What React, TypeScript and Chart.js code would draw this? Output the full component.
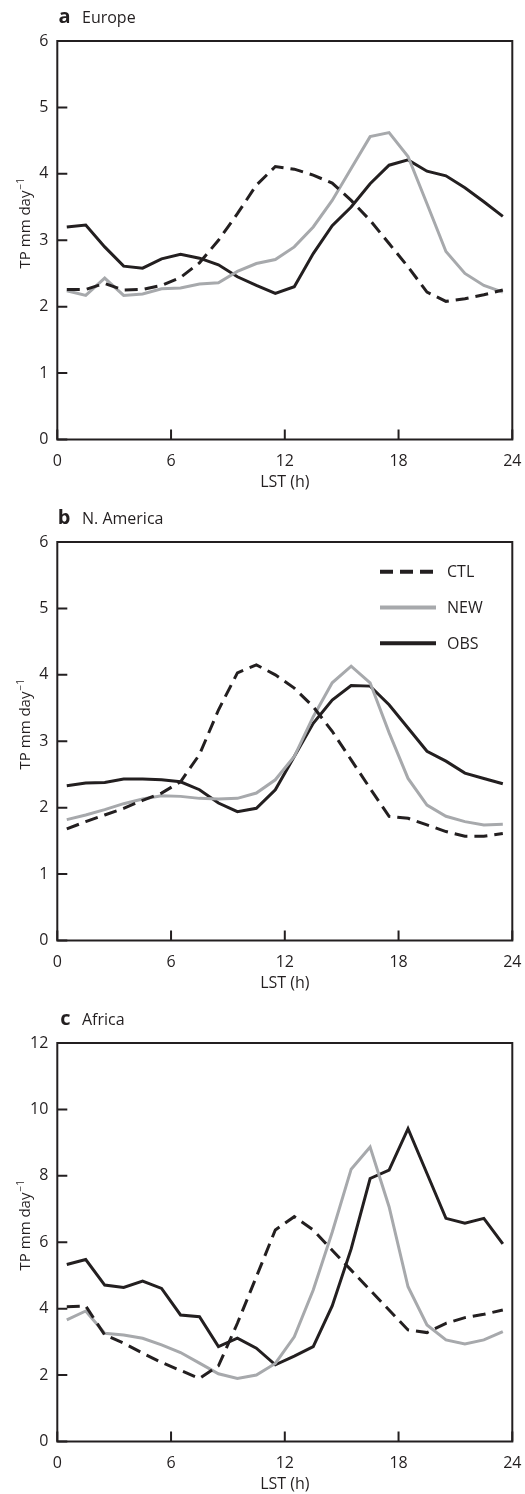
import React, { useEffect, useRef } from 'react';
import { Chart, registerables } from 'chart.js';

Chart.register(...registerables);

// ---- data ----
const HOURS = [0.5, 1.5, 2.5, 3.5, 4.5, 5.5, 6.5, 7.5, 8.5, 9.5, 10.5, 11.5, 12.5, 13.5, 14.5, 15.5, 16.5, 17.5, 18.5, 19.5, 20.5, 21.5, 22.5, 23.5];
const SERIES_NAMES = ['CTL', 'NEW', 'OBS'];

const EUROPE_CTL = [2.26, 2.26, 2.35, 2.25, 2.26, 2.32, 2.44, 2.66, 3.0, 3.4, 3.83, 4.11, 4.07, 3.98, 3.86, 3.6, 3.3, 2.95, 2.6, 2.22, 2.08, 2.12, 2.18, 2.25];
const EUROPE_NEW = [2.24, 2.17, 2.43, 2.17, 2.19, 2.27, 2.28, 2.34, 2.36, 2.53, 2.65, 2.71, 2.9, 3.2, 3.6, 4.08, 4.56, 4.62, 4.26, 3.55, 2.83, 2.5, 2.32, 2.22];
const EUROPE_OBS = [3.2, 3.23, 2.9, 2.61, 2.58, 2.72, 2.79, 2.73, 2.63, 2.45, 2.32, 2.2, 2.3, 2.8, 3.22, 3.5, 3.85, 4.13, 4.21, 4.04, 3.97, 3.79, 3.58, 3.36];

const NAMERICA_CTL = [1.68, 1.79, 1.89, 1.99, 2.11, 2.22, 2.39, 2.8, 3.47, 4.03, 4.15, 4.0, 3.8, 3.52, 3.15, 2.72, 2.29, 1.87, 1.84, 1.74, 1.64, 1.57, 1.57, 1.61];
const NAMERICA_NEW = [1.82, 1.89, 1.97, 2.06, 2.13, 2.18, 2.17, 2.14, 2.13, 2.14, 2.22, 2.42, 2.77, 3.37, 3.88, 4.13, 3.88, 3.13, 2.44, 2.04, 1.87, 1.79, 1.74, 1.75];
const NAMERICA_OBS = [2.33, 2.37, 2.38, 2.43, 2.43, 2.42, 2.39, 2.27, 2.07, 1.94, 1.99, 2.27, 2.77, 3.27, 3.62, 3.84, 3.83, 3.55, 3.2, 2.85, 2.7, 2.52, 2.44, 2.36];

const AFRICA_CTL = [4.06, 4.08, 3.21, 2.96, 2.66, 2.38, 2.14, 1.9, 2.28, 3.56, 4.96, 6.37, 6.77, 6.37, 5.76, 5.16, 4.56, 3.96, 3.36, 3.28, 3.56, 3.73, 3.83, 3.96];
const AFRICA_NEW = [3.66, 3.93, 3.26, 3.21, 3.11, 2.91, 2.68, 2.36, 2.04, 1.9, 2.0, 2.35, 3.15, 4.56, 6.3, 8.2, 8.87, 7.07, 4.66, 3.51, 3.06, 2.94, 3.06, 3.31];
const AFRICA_OBS = [5.33, 5.48, 4.71, 4.64, 4.83, 4.61, 3.81, 3.76, 2.86, 3.11, 2.81, 2.31, 2.57, 2.86, 4.08, 5.8, 7.92, 8.17, 9.42, 8.07, 6.72, 6.57, 6.72, 5.95];

const X_MIN = 0;
const X_MAX = 24;
const X_STEP = 6;

// ---- style ----
const INK = '#231f20';
const GREY = '#a7a9ac';
const FONT = '"Open Sans", "DejaVu Sans", sans-serif';
const W = 525;

const decor = {
  id: 'decor',
  afterDraw(chart: any, _args: any, opts: any) {
    const { ctx, chartArea: a, scales } = chart;
    const xs = scales.x;
    const ys = scales.y;
    ctx.save();
    // frame
    ctx.strokeStyle = INK;
    ctx.lineWidth = 2;
    ctx.lineCap = 'butt';
    ctx.strokeRect(a.left, a.top, a.right - a.left, a.bottom - a.top);
    // inward ticks
    ctx.beginPath();
    ys.ticks.forEach((t: any) => {
      const py = ys.getPixelForValue(t.value);
      ctx.moveTo(a.left, py);
      ctx.lineTo(a.left + 10, py);
    });
    xs.ticks.forEach((t: any) => {
      const px = xs.getPixelForValue(t.value);
      ctx.moveTo(px, a.bottom);
      ctx.lineTo(px, a.bottom - 10);
    });
    ctx.stroke();

    ctx.fillStyle = INK;
    // panel title
    ctx.textBaseline = 'alphabetic';
    ctx.font = `bold 20px ${FONT}`;
    ctx.textAlign = 'right';
    ctx.fillText(opts.letter, 70.5, a.top - 17.7);
    ctx.font = `16px ${FONT}`;
    ctx.textAlign = 'left';
    ctx.fillText(opts.name, 82, a.top - 17.7);

    // x title
    ctx.textAlign = 'center';
    ctx.font = `16px ${FONT}`;
    ctx.fillText('LST (h)', (a.left + a.right) / 2, a.bottom + 47);

    // y title with superscript
    ctx.save();
    ctx.translate(30, (a.top + a.bottom) / 2 - 17);
    ctx.rotate(-Math.PI / 2);
    ctx.textAlign = 'left';
    const main = 'TP mm day';
    const sup = '\u22121';
    ctx.font = `15px ${FONT}`;
    const w1 = ctx.measureText(main).width;
    ctx.font = `10px ${FONT}`;
    const w2 = ctx.measureText(sup).width;
    const start = -(w1 + 1 + w2) / 2;
    ctx.font = `15px ${FONT}`;
    ctx.fillText(main, start, 0);
    ctx.font = `10px ${FONT}`;
    ctx.fillText(sup, start + w1 + 1, -6);
    ctx.restore();

    // legend
    if (opts.legend) {
      chart.data.datasets.forEach((ds: any, i: number) => {
        const ly = a.top + 29.7 + i * 35.8;
        ctx.save();
        ctx.strokeStyle = ds.borderColor;
        ctx.lineWidth = 4;
        ctx.setLineDash(ds.borderDash || []);
        ctx.beginPath();
        ctx.moveTo(380, ly);
        ctx.lineTo(436, ly);
        ctx.stroke();
        ctx.restore();
        ctx.fillStyle = INK;
        ctx.font = `16px ${FONT}`;
        ctx.textAlign = 'left';
        ctx.textBaseline = 'middle';
        ctx.fillText(ds.label, 447, ly + 1);
      });
    }
    ctx.restore();
  },
};

type PanelProps = {
  top: number;
  height: number;
  letter: string;
  name: string;
  ctl: number[];
  nw: number[];
  obs: number[];
  yMax: number;
  yStep: number;
  legend: boolean;
};

function Panel(p: PanelProps) {
  const ref = useRef<HTMLCanvasElement | null>(null);
  useEffect(() => {
    if (!ref.current) return;
    const mk = (vals: number[]) => HOURS.map((h, i) => ({ x: h, y: vals[i] }));
    const chart = new Chart(ref.current, {
      type: 'line',
      data: {
        datasets: [
          { label: SERIES_NAMES[0], data: mk(p.ctl), borderColor: INK, borderWidth: 3, borderDash: [13, 7], pointRadius: 0, tension: 0, fill: false },
          { label: SERIES_NAMES[1], data: mk(p.nw), borderColor: GREY, borderWidth: 3, pointRadius: 0, tension: 0, fill: false },
          { label: SERIES_NAMES[2], data: mk(p.obs), borderColor: INK, borderWidth: 3, pointRadius: 0, tension: 0, fill: false },
        ],
      },
      options: {
        responsive: false,
        animation: false,
        events: [],
        layout: { padding: { top: 41, right: 12.7, left: 0, bottom: 0 } },
        plugins: {
          legend: { display: false },
          tooltip: { enabled: false },
          decor: { letter: p.letter, name: p.name, legend: p.legend },
        } as any,
        scales: {
          x: {
            type: 'linear',
            min: X_MIN,
            max: X_MAX,
            ticks: { stepSize: X_STEP, padding: 12, maxRotation: 0, color: INK, font: { family: FONT, size: 16 } },
            grid: { display: false, drawTicks: false },
            border: { display: false },
            afterFit: (s: any) => {
              s.height = p.height - 439.5;
              s.paddingLeft = 0;
              s.paddingRight = 0;
            },
          },
          y: {
            type: 'linear',
            min: 0,
            max: p.yMax,
            ticks: { stepSize: p.yStep, padding: 9, color: INK, font: { family: FONT, size: 16 } },
            grid: { display: false, drawTicks: false },
            border: { display: false },
            afterFit: (s: any) => {
              s.width = 57.3;
              s.paddingTop = 0;
              s.paddingBottom = 0;
            },
          },
        },
      },
      plugins: [decor as any],
    });
    return () => chart.destroy();
  }, []);
  return (
    <canvas
      ref={ref}
      width={W}
      height={p.height}
      style={{ position: 'absolute', left: 0, top: p.top, width: W, height: p.height }}
    />
  );
}

export default function App() {
  return (
    <div style={{ position: 'absolute', left: 0, top: 0, width: W, height: 1494, background: '#fff' }}>
      <Panel top={0} height={501} letter="a" name="Europe" ctl={EUROPE_CTL} nw={EUROPE_NEW} obs={EUROPE_OBS} yMax={6} yStep={1} legend={false} />
      <Panel top={501} height={501} letter="b" name="N. America" ctl={NAMERICA_CTL} nw={NAMERICA_NEW} obs={NAMERICA_OBS} yMax={6} yStep={1} legend={true} />
      <Panel top={1002} height={492} letter="c" name="Africa" ctl={AFRICA_CTL} nw={AFRICA_NEW} obs={AFRICA_OBS} yMax={12} yStep={2} legend={false} />
    </div>
  );
}
